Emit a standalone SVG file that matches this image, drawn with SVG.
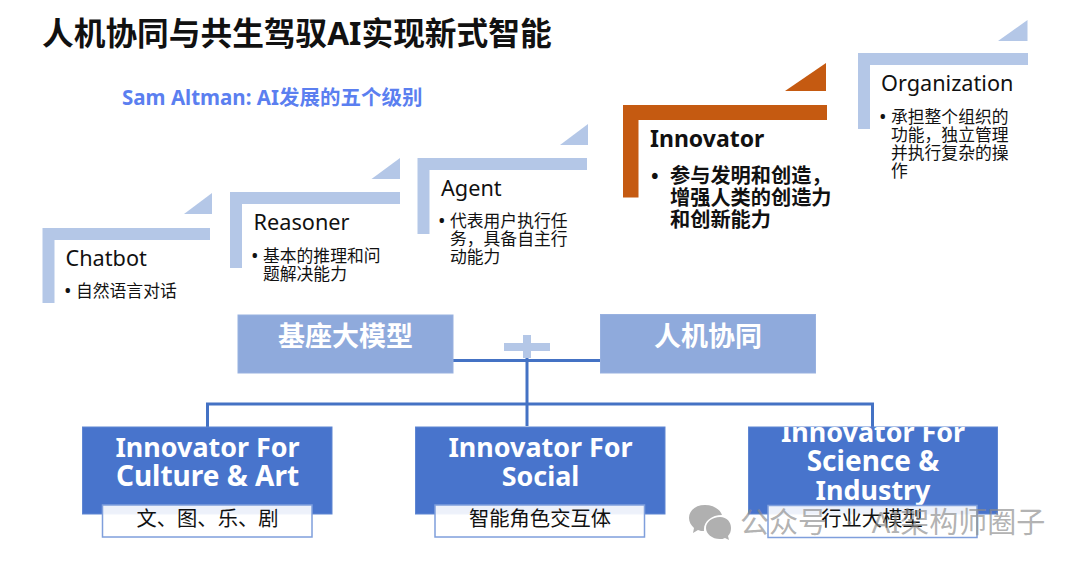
<svg xmlns="http://www.w3.org/2000/svg" width="1080" height="566" viewBox="0 0 1080 566">
<style>
text{font-family:"Noto Sans","Noto Sans CJK SC",sans-serif;fill:#111}
.lv{fill:#b4c7e7}
.or{fill:#c55a11}
.h{font-size:21.7px}
.b{font-size:16.8px}
.d{font-size:20px}
.title{font-size:31.7px;font-weight:700}
.sub{font-size:20.5px;font-weight:700;fill:#5b7ff0}
.ih{font-size:23px;font-weight:700}
.ib{font-size:20.2px;font-weight:700}
.top{fill:#8faadc;stroke:#98b1e0;stroke-width:1}
.tt{font-size:27px;font-weight:700;fill:#fff;text-anchor:middle}
.box{fill:#4874cc;stroke:#5f86d2;stroke-width:1}
.bt{font-size:26.9px;font-weight:700;fill:#fff;text-anchor:middle}
.bw{font-size:28px}
.lab{fill:#fff;fill-opacity:.9;stroke:#7f9fdc;stroke-width:1.5}
.lt{font-size:20.3px;text-anchor:middle}
.con{fill:none;stroke:#4472c4;stroke-width:3}
.wm{font-size:29px;word-spacing:11px;fill:#8c8c8c;fill-opacity:.68}
</style>
<defs>
<clipPath id="clipSci"><rect x="748" y="427" width="250" height="90"/></clipPath>
</defs>

<text class="title" x="42" y="45">人机协同与共生驾驭AI实现新式智能</text>
<text class="sub" x="122" y="105">Sam Altman: AI发展的五个级别</text>

<g id="chatbot">
<path class="lv" d="M42.500 228H210V240H54.500V303H42.500Z"/>
<path class="lv" d="M184 214L212 193V214Z"/>
<text class="h" x="65.500" y="266">Chatbot</text>
<text class="d" x="64" y="298">•</text><text class="b" x="76" y="297">自然语言对话</text>
</g>

<g id="reasoner">
<path class="lv" d="M230 192H400V204H242V268H230Z"/>
<path class="lv" d="M371.500 179L400 158V179Z"/>
<text class="h" x="253.500" y="230">Reasoner</text>
<text class="d" x="251" y="263">•</text><text class="b" x="263" y="262">基本的推理和问</text>
<text class="b" x="263" y="280">题解决能力</text>
</g>

<g id="agent">
<path class="lv" d="M417.500 158H587V170H429.500V234H417.500Z"/>
<path class="lv" d="M560 145L588 124V145Z"/>
<text class="h" x="441" y="196">Agent</text>
<text class="d" x="438" y="228">•</text><text class="b" x="450" y="227">代表用户执行任</text>
<text class="b" x="450" y="245">务，具备自主行</text>
<text class="b" x="450" y="263">动能力</text>
</g>

<g id="innovator">
<path class="or" d="M623 105H827V120H638.500V197.500H623Z"/>
<path class="or" d="M785 91L826 63V91Z"/>
<text class="ih" x="650" y="147">Innovator</text>
<text class="ib" x="651" y="183">•</text><text class="ib" x="670" y="183">参与发明和创造，</text>
<text class="ib" x="670" y="205">增强人类的创造力</text>
<text class="ib" x="670" y="227">和创新能力</text>
</g>

<g id="organization">
<path class="lv" d="M858 53H1028V65H870V129H858Z"/>
<path class="lv" d="M998 41L1027.500 20V41Z"/>
<text class="h" x="881" y="91">Organization</text>
<text class="d" x="879" y="124">•</text><text class="b" x="891" y="123">承担整个组织的</text>
<text class="b" x="891" y="141">功能，独立管理</text>
<text class="b" x="891" y="159">并执行复杂的操</text>
<text class="b" x="891" y="177">作</text>
</g>

<g id="connectors">
<path class="con" d="M453 360.500H600"/>
<path class="con" d="M527 358V426"/>
<path class="con" d="M207.500 427V404H872.500V427"/>
</g>

<g id="plus">
<path fill="#b4c7e7" d="M523 335H531V343H550V351H531V358H523V351H504V343H523Z"/>
</g>

<g id="base-model">
<rect class="top" x="238" y="315" width="215" height="58"/>
<text class="tt" x="345.500" y="346">基座大模型</text>
</g>
<g id="human-machine">
<rect class="top" x="600.500" y="314.500" width="215" height="58.500"/>
<text class="tt" x="708" y="346">人机协同</text>
</g>

<g id="culture">
<rect class="box" x="82.500" y="427" width="249.500" height="87"/>
<text class="bt" x="207.500" y="456.500">Innovator For</text>
<text class="bt bw" x="207.500" y="486">Culture &amp; Art</text>
<rect class="lab" x="102.500" y="505" width="209.500" height="32"/>
<text class="lt" x="207.500" y="526">文、图、乐、剧</text>
</g>
<g id="social">
<rect class="box" x="415.500" y="427" width="249.500" height="87"/>
<text class="bt" x="540.500" y="456.500">Innovator For</text>
<text class="bt" x="540.500" y="486">Social</text>
<rect class="lab" x="435" y="505" width="209.500" height="32"/>
<text class="lt" x="540" y="526">智能角色交互体</text>
</g>
<g id="science">
<rect class="box" x="748.500" y="427" width="249" height="87"/>
<g clip-path="url(#clipSci)">
<text class="bt" x="873" y="442">Innovator For</text>
<text class="bt bw" x="873" y="471">Science &amp;</text>
<text class="bt" x="873" y="500">Industry</text>
</g>
<rect class="lab" x="768" y="505.500" width="209" height="32"/>
<text class="lt" x="872" y="526">行业大模型</text>
</g>

<g id="watermark">
<path fill="#b0b0b0" d="M705 505C695 505 689 511 689 518C689 522 691 525 694 528L693 533L698 530C700 531 702 531 704 531C703 522 711 515 722 515C720 509 713 505 705 505Z"/>
<path fill="#b0b0b0" d="M720 517C712 517 706 522 706 528C706 534 712 539 720 539C722 539 723 539 725 538L729 540L728 536C730 534 731 531 731 528C731 522 727 517 720 517Z"/>
<text class="wm" x="740" y="533">公众号 · AI架构师圈子</text>
</g>
</svg>
